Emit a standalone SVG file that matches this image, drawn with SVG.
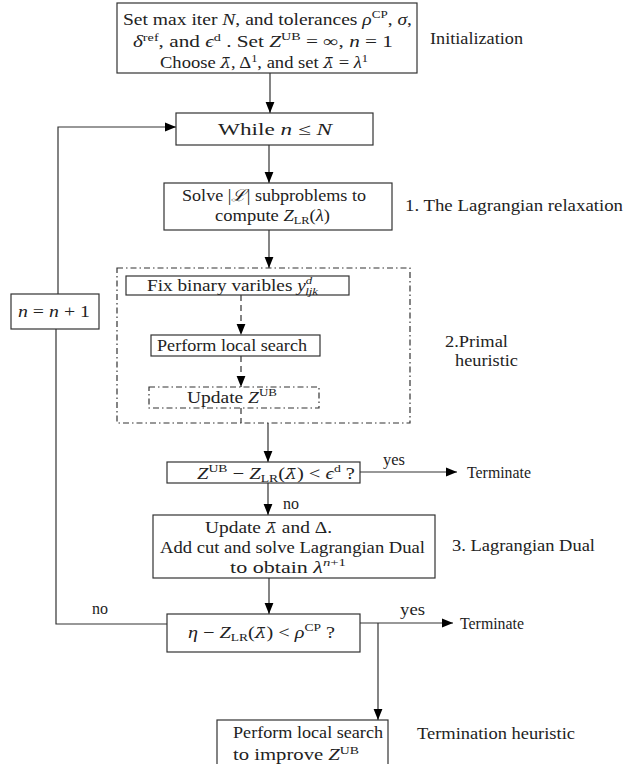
<svg xmlns="http://www.w3.org/2000/svg" width="625" height="764" viewBox="0 0 625 764">
<defs>
<marker id="ah" viewBox="0 0 10 10" refX="10" refY="5" markerWidth="11" markerHeight="11" markerUnits="userSpaceOnUse" orient="auto">
<path d="M0,1 L10,5 L0,9 Z" fill="#000"/>
</marker>
</defs>
<style>
text{font-family:"Liberation Serif","DejaVu Serif",serif;font-size:16.5px;fill:#222}
.i{font-style:italic}
.s{font-size:11px}
.lb{font-family:"DejaVu Serif",serif;font-style:italic;font-size:15px}
rect{fill:#fff;stroke:#333;stroke-width:1.2}
.dd{stroke-dasharray:6,3,1.5,3;fill:none}
.ln{stroke:#333;stroke-width:1.2;fill:none}
.dl{stroke:#333;stroke-width:1.2;fill:none;stroke-dasharray:6,4}
</style>

<g id="connectors">
<line class="ln" x1="270" y1="73" x2="270" y2="113" marker-end="url(#ah)"/>
<line class="ln" x1="269" y1="145" x2="269" y2="183" marker-end="url(#ah)"/>
<line class="ln" x1="269" y1="230" x2="269" y2="268" marker-end="url(#ah)"/>
<line class="dl" x1="241" y1="295" x2="241" y2="335" marker-end="url(#ah)"/>
<line class="dl" x1="241" y1="356" x2="241" y2="387" marker-end="url(#ah)"/>
<line class="dl" x1="241" y1="408" x2="241" y2="423"/>
<line class="ln" x1="268" y1="423" x2="268" y2="462" marker-end="url(#ah)"/>
<line class="ln" x1="360" y1="472" x2="457" y2="472" marker-end="url(#ah)"/>
<line class="ln" x1="268" y1="483" x2="268" y2="515" marker-end="url(#ah)"/>
<line class="ln" x1="269" y1="578" x2="269" y2="614" marker-end="url(#ah)"/>
<line class="ln" x1="360" y1="623" x2="453" y2="623" marker-end="url(#ah)"/>
<line class="ln" x1="378" y1="623" x2="378" y2="720" marker-end="url(#ah)"/>
<polyline class="ln" points="167,624 56,624 56,329"/>
<polyline class="ln" points="58,294 58,127 176,127" marker-end="url(#ah)"/>
<text x="383" y="465" textLength="22" lengthAdjust="spacingAndGlyphs">yes</text>
<text x="283" y="509" textLength="16" lengthAdjust="spacingAndGlyphs">no</text>
<text x="92" y="614" textLength="16" lengthAdjust="spacingAndGlyphs">no</text>
<text x="400" y="615" textLength="25" lengthAdjust="spacingAndGlyphs">yes</text>
<text x="467" y="478" textLength="64" lengthAdjust="spacingAndGlyphs">Terminate</text>
<text x="460" y="629" textLength="64" lengthAdjust="spacingAndGlyphs">Terminate</text>
</g>

<g id="init">
<rect x="117" y="3" width="300" height="70"/>
<text x="123" y="25" textLength="289" lengthAdjust="spacingAndGlyphs">Set max iter <tspan class="i">N</tspan>, and tolerances <tspan class="i">ρ</tspan><tspan class="s" dy="-7">CP</tspan><tspan dy="7">, </tspan><tspan class="i">σ</tspan>,</text>
<text x="133" y="47" textLength="260" lengthAdjust="spacingAndGlyphs"><tspan class="i">δ</tspan><tspan class="s" dy="-6">ref</tspan><tspan dy="6">, and </tspan><tspan class="i">ϵ</tspan><tspan class="s" dy="-6">d</tspan><tspan dy="6"> . Set </tspan><tspan class="i">Z</tspan><tspan class="s" dy="-7">UB</tspan><tspan dy="7"> = ∞, </tspan><tspan class="i">n</tspan> = 1</text>
<text x="160" y="68" textLength="208" lengthAdjust="spacingAndGlyphs">Choose <tspan class="lb">λ̄</tspan>, Δ<tspan class="s" dy="-6">1</tspan><tspan dy="6">, and set </tspan><tspan class="lb">λ̄</tspan> = <tspan class="i">λ</tspan><tspan class="s" dy="-6">1</tspan></text>
<text x="430" y="44" textLength="93" lengthAdjust="spacingAndGlyphs">Initialization</text>
</g>

<g id="while">
<rect x="176" y="113" width="197" height="32"/>
<text x="218" y="135" textLength="114" lengthAdjust="spacingAndGlyphs">While <tspan class="i">n</tspan> ≤ <tspan class="i">N</tspan></text>
</g>

<g id="solve">
<rect x="164" y="183" width="228" height="47"/>
<text x="182" y="201" textLength="184" lengthAdjust="spacingAndGlyphs">Solve |<tspan class="i">ℒ</tspan>| subproblems to</text>
<text x="215" y="221" textLength="115" lengthAdjust="spacingAndGlyphs">compute <tspan class="i">Z</tspan><tspan class="s" dy="3">LR</tspan><tspan dy="-3">(</tspan><tspan class="i">λ</tspan>)</text>
<text x="405" y="211" textLength="218" lengthAdjust="spacingAndGlyphs">1. The Lagrangian relaxation</text>
</g>

<g id="primal">
<rect class="dd" x="117" y="268" width="293" height="155"/>
<text x="445" y="347" textLength="63" lengthAdjust="spacingAndGlyphs">2.Primal</text>
<text x="455" y="366" textLength="63" lengthAdjust="spacingAndGlyphs">heuristic</text>
</g>

<g id="fix">
<rect x="126" y="276" width="223" height="19"/>
<text x="147" y="291" textLength="171" lengthAdjust="spacingAndGlyphs">Fix binary varibles <tspan class="i">y</tspan><tspan class="s i" dy="-7">d</tspan><tspan class="s i" dx="-6" dy="11">ljk</tspan></text>
</g>

<g id="local">
<rect x="151" y="335" width="169" height="21"/>
<text x="157" y="351" textLength="150" lengthAdjust="spacingAndGlyphs">Perform local search</text>
</g>

<g id="update-ub">
<rect class="dd" x="149" y="387" width="170" height="21"/>
<text x="187" y="403" textLength="90" lengthAdjust="spacingAndGlyphs">Update <tspan class="i">Z</tspan><tspan class="s" dy="-7">UB</tspan></text>
</g>

<g id="check1">
<rect x="167" y="462" width="193" height="21"/>
<text x="197" y="479" textLength="158" lengthAdjust="spacingAndGlyphs"><tspan class="i">Z</tspan><tspan class="s" dy="-7">UB</tspan><tspan dy="7"> − </tspan><tspan class="i">Z</tspan><tspan class="s" dy="3">LR</tspan><tspan dy="-3">(</tspan><tspan class="lb">λ̄</tspan>) &lt; <tspan class="i">ϵ</tspan><tspan class="s" dy="-7">d</tspan><tspan dy="7"> ?</tspan></text>
</g>

<g id="dual">
<rect x="153" y="515" width="282" height="63"/>
<text x="205" y="533" textLength="127" lengthAdjust="spacingAndGlyphs">Update <tspan class="lb">λ̄</tspan> and Δ.</text>
<text x="160" y="553" textLength="265" lengthAdjust="spacingAndGlyphs">Add cut and solve Lagrangian Dual</text>
<text x="230" y="573" textLength="116" lengthAdjust="spacingAndGlyphs">to obtain <tspan class="i">λ</tspan><tspan class="s i" dy="-7">n</tspan><tspan class="s">+1</tspan></text>
<text x="452" y="551" textLength="143" lengthAdjust="spacingAndGlyphs">3. Lagrangian Dual</text>
</g>

<g id="check2">
<rect x="167" y="614" width="193" height="38"/>
<text x="188" y="638" textLength="147" lengthAdjust="spacingAndGlyphs"><tspan class="i">η</tspan> − <tspan class="i">Z</tspan><tspan class="s" dy="3">LR</tspan><tspan dy="-3">(</tspan><tspan class="lb">λ̄</tspan>) &lt; <tspan class="i">ρ</tspan><tspan class="s" dy="-7">CP</tspan><tspan dy="7"> ?</tspan></text>
</g>

<g id="incr">
<rect x="11" y="294" width="88" height="35"/>
<text x="18" y="317" textLength="72" lengthAdjust="spacingAndGlyphs"><tspan class="i">n</tspan> = <tspan class="i">n</tspan> + 1</text>
</g>

<g id="term-heur">
<rect x="217" y="720" width="171" height="50"/>
<text x="233" y="738" textLength="150" lengthAdjust="spacingAndGlyphs">Perform local search</text>
<text x="233" y="760" textLength="126" lengthAdjust="spacingAndGlyphs">to improve <tspan class="i">Z</tspan><tspan class="s" dy="-6">UB</tspan></text>
<text x="417" y="739" textLength="158" lengthAdjust="spacingAndGlyphs">Termination heuristic</text>
</g>
</svg>
